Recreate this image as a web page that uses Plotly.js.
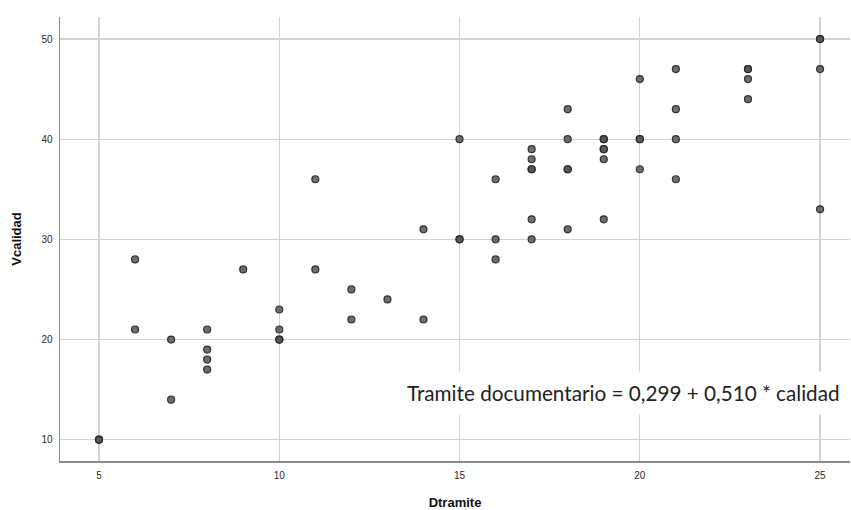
<!DOCTYPE html>
<html>
<head>
<meta charset="utf-8">
<script src="https://cdn.plot.ly/plotly-3.0.1.min.js"></script>
<style>html,body{margin:0;padding:0;background:#fff;}#chart{width:851px;height:510px;}</style>
</head>
<body>
<div id="chart"></div>
<script>
// Data (duplicates = overlapping points)
const dtramite = [5,5,6,6,7,7,8,8,8,8,9,10,10,10,10,11,11,12,12,13,14,14,15,15,15,
  16,16,16,17,17,17,17,17,17,18,18,18,18,18,19,19,19,19,19,19,20,20,20,20,21,21,21,21,23,23,23,23,25,25,25,25];
const vcalidad = [10,10,28,21,20,14,21,19,18,17,27,23,21,20,20,36,27,25,22,24,31,22,40,30,30,
  36,30,28,39,38,37,37,32,30,43,40,37,37,31,40,40,39,39,38,32,46,40,40,37,47,43,40,36,47,47,46,44,50,50,47,33];
const xTicks = [5,10,15,20,25];
const yTicks = [10,20,30,40,50];
const xTitle = 'Dtramite';
const yTitle = 'Vcalidad';
const equationText = 'Tramite documentario = 0,299 + 0,510 * calidad';

const trace = {
  x: dtramite, y: vcalidad, type: 'scatter', mode: 'markers',
  marker: {size: 7, color: 'rgba(85,85,85,0.85)', line: {color: 'rgba(35,35,35,0.9)', width: 1.2}},
  hoverinfo: 'x+y', showlegend: false
};

const axisCommon = {
  showgrid: true, gridcolor: '#d2d2d2', gridwidth: 1.3,
  zeroline: false, showline: true, linecolor: '#8a8a8a', linewidth: 1.5,
  ticks: '', tickfont: {family: 'Liberation Sans, Arial, sans-serif', size: 10, color: '#2a2a2a'},
  tickmode: 'array'
};

const layout = {
  width: 851, height: 510,
  margin: {l: 60, r: 1, t: 17, b: 49},
  paper_bgcolor: '#fff', plot_bgcolor: '#fff',
  xaxis: Object.assign({}, axisCommon, {
    range: [3.918, 25.83], tickvals: xTicks, ticktext: xTicks.map(String),
    ticklabelstandoff: 4,
    title: {text: xTitle, standoff: 20, font: {family: 'Liberation Sans, Arial, sans-serif', size: 13, color: '#111', weight: 'bold'}}
  }),
  yaxis: Object.assign({}, axisCommon, {
    range: [7.874, 52.2], tickvals: yTicks, ticktext: yTicks.map(String),
    ticklabelstandoff: 4,
    title: {text: yTitle, standoff: 17, font: {family: 'Liberation Sans, Arial, sans-serif', size: 13, color: '#111', weight: 'bold'}}
  }),
  annotations: [{
    xref: 'paper', yref: 'paper', x: 1.0, y: 0.153, xanchor: 'right', yanchor: 'middle',
    text: equationText, showarrow: false, bgcolor: '#ffffff', borderpad: 9,
    font: {family: 'Lato, Open Sans, sans-serif', size: 20.7, color: '#222'}
  }]
};

Plotly.newPlot('chart', [trace], layout, {displayModeBar: false, staticPlot: true});
</script>
</body>
</html>
